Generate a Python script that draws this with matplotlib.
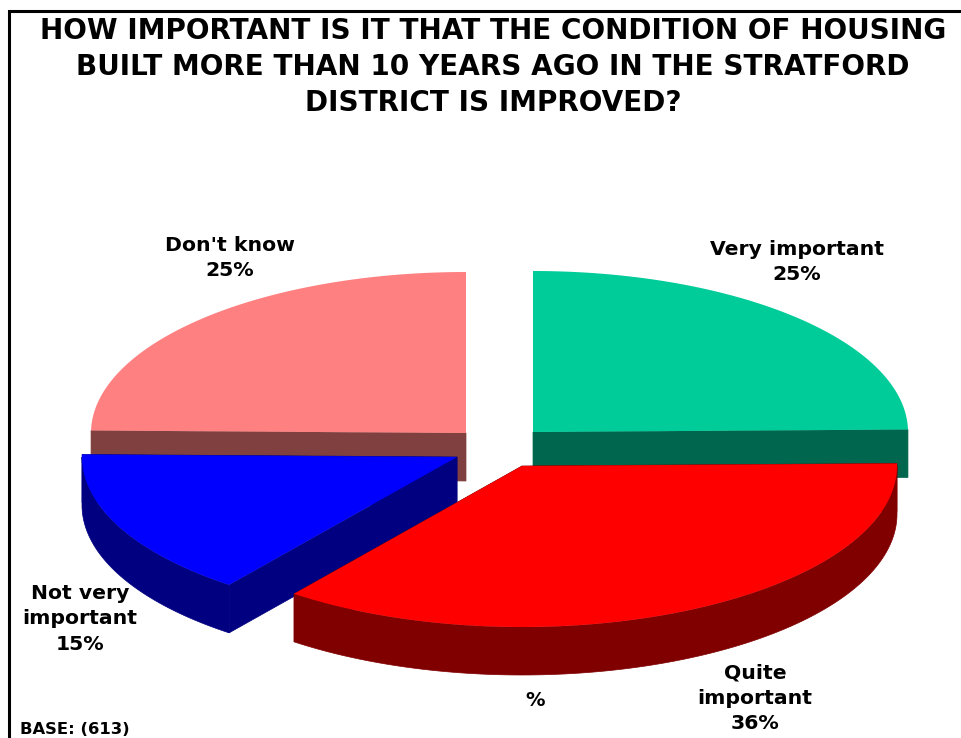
import numpy as np
import matplotlib
matplotlib.use("Agg")
import matplotlib.pyplot as plt
from matplotlib.patches import Polygon

categories = ["Very important", "Quite important", "Not very important", "Don't know"]
values = [25, 36, 15, 25]
top_colors = ["#00CC99", "#FF0000", "#0000FF", "#FF8080"]
side_colors = ["#00664D", "#800000", "#000080", "#804040"]
apexes = [(533, 432), (522, 466), (457, 457), (466, 433)]
label_texts = ["Very important\n25%", "Quite\nimportant\n36%", "Not very\nimportant\n15%", "Don't know\n25%"]
label_pos = [(797, 262), (755, 698), (80, 619), (230, 258)]
title = ("HOW IMPORTANT IS IT THAT THE CONDITION OF HOUSING\n"
         "BUILT MORE THAN 10 YEARS AGO IN THE STRATFORD\n"
         "DISTRICT IS IMPROVED?")

RX, RY, DEPTH = 375, 161, 48

fig = plt.figure(figsize=(9.62, 7.38), dpi=100)
ax = fig.add_axes([0, 0, 1, 1])
ax.set_xlim(0, 962)
ax.set_ylim(738, 0)
ax.axis("off")

fracs = np.array(values) / sum(values) * 360
ends = 90 - np.cumsum(fracs)
starts = ends + fracs


def arc(c, a0, a1, n=120):
    t = np.radians(np.linspace(a0, a1, n))
    return np.column_stack([c[0] + RX * np.cos(t), c[1] - RY * np.sin(t)])


def draw_slice(i, z):
    c = apexes[i]
    a0, a1 = starts[i], ends[i]
    down = np.array([0, DEPTH])
    a = arc(c, a0, a1)
    apex = np.array(c, float)
    # cut faces (the ones running to the back of the pie stay hidden)
    for edge in (a[0], a[-1]):
        if edge[1] < apex[1] - 10:
            continue
        face = np.array([apex, edge, edge + down, apex + down])
        ax.add_patch(Polygon(face, closed=True, fc=side_colors[i], ec=side_colors[i], lw=0.5, zorder=z))
    # outer wall: only the part of the rim that faces the viewer
    lo, hi = max(a1, -180), min(a0, 0)
    if hi > lo:
        w = arc(c, lo, hi)
        wall = np.vstack([w, (w + down)[::-1]])
        ax.add_patch(Polygon(wall, closed=True, fc=side_colors[i], ec=side_colors[i], lw=0.5, zorder=z))
    top = np.vstack([apex, a])
    ax.add_patch(Polygon(top, closed=True, fc=top_colors[i], ec="none", zorder=z + 0.5))


for z, i in enumerate([3, 0, 2, 1]):
    draw_slice(i, z + 1)

# frame lines
ax.plot([9.5, 9.5, 962], [738, 11, 11], color="black", lw=2.2, solid_joinstyle="miter", zorder=10)

font = {"family": "DejaVu Sans", "fontweight": "bold", "color": "black"}
ax.text(493, 67, title, ha="center", va="center", fontsize=20.05, linespacing=1.37, **font)
for txt, (x, y) in zip(label_texts, label_pos):
    ax.text(x, y, txt, ha="center", va="center", fontsize=14.7, linespacing=1.42, **font)
ax.text(535, 701, "%", ha="center", va="center", fontsize=14, **font)
ax.text(20, 729, "BASE: (613)", ha="left", va="center", fontsize=11.8, **font)

fig.savefig("out.png", dpi=100, facecolor="white")
